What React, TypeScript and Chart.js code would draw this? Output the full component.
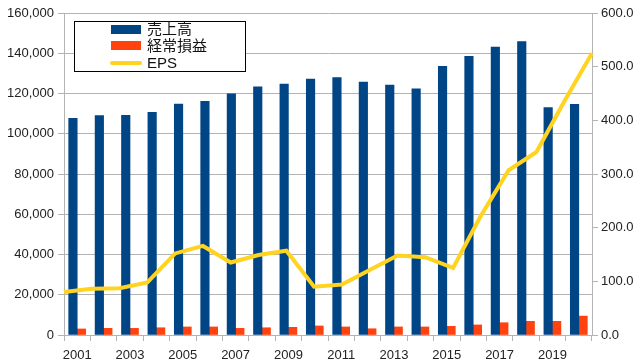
import React, { useEffect, useRef } from "react";
import { Chart, registerables } from "chart.js";

Chart.register(...registerables);

const years = ["2001","2002","2003","2004","2005","2006","2007","2008","2009","2010","2011","2012","2013","2014","2015","2016","2017","2018","2019","2020"];
const sales = [107700,109000,109200,110700,114800,116100,119800,123300,124700,127200,127900,125700,124200,122300,133500,138500,143100,145800,113000,114600];
const ordinaryProfit = [3000,3300,3300,3600,4000,4000,3300,3600,3800,4500,4000,3100,4000,4000,4300,5000,6100,6800,6800,9400];
const eps = [80,86,87,98,152,166,135,149,157,90,94,121,148,145,125,222,307,341,435,525];

const seriesNames = ["売上高", "経常損益", "EPS"];
const colors = ["#004586", "#ff420e", "#ffd320"];

const FONT = "'Liberation Sans', Arial, 'Noto Sans CJK JP', sans-serif";

const legendBox = {
  id: "legendBox",
  afterDatasetsDraw(chart: any) {
    const ctx = chart.ctx as CanvasRenderingContext2D;
    ctx.save();
    const x0 = 74.5, y0 = 21.5, w = 171, h = 50;
    ctx.fillStyle = "#ffffff";
    ctx.fillRect(x0, y0, w, h);
    ctx.strokeStyle = "#000000";
    ctx.lineWidth = 1;
    ctx.strokeRect(x0, y0, w, h);
    ctx.fillStyle = colors[0];
    ctx.fillRect(111, 25, 30, 9);
    ctx.fillStyle = colors[1];
    ctx.fillRect(111, 41, 30, 9);
    ctx.strokeStyle = colors[2];
    ctx.lineWidth = 4;
    ctx.lineCap = "round";
    ctx.beginPath();
    ctx.moveTo(112, 63);
    ctx.lineTo(140, 63);
    ctx.stroke();
    ctx.fillStyle = "#111111";
    ctx.font = "15px " + FONT;
    ctx.textBaseline = "middle";
    ctx.textAlign = "left";
    ctx.fillText(seriesNames[0], 147, 30);
    ctx.fillText(seriesNames[1], 147, 47);
    ctx.fillText(seriesNames[2], 147, 64);
    ctx.restore();
  },
};

export default function App() {
  const ref = useRef<HTMLCanvasElement | null>(null);
  useEffect(() => {
    if (!ref.current) return;
    const gridColor = "#b3b3b3";
    const chart = new Chart(ref.current, {
      type: "bar",
      data: {
        labels: years,
        datasets: [
          {
            type: "line",
            label: seriesNames[2],
            data: eps,
            borderColor: colors[2],
            backgroundColor: colors[2],
            borderWidth: 4,
            pointRadius: 0,
            tension: 0,
            xAxisID: "x2",
            yAxisID: "y1",
            order: 0,
          } as any,
          {
            label: seriesNames[0],
            data: sales,
            backgroundColor: colors[0],
            barThickness: 8.5,
            yAxisID: "y",
            order: 1,
          },
          {
            label: seriesNames[1],
            data: ordinaryProfit,
            backgroundColor: colors[1],
            barThickness: 8.5,
            yAxisID: "y",
            order: 1,
          },
        ],
      },
      options: {
        responsive: false,
        animation: false,
        devicePixelRatio: 1,
        layout: { padding: { top: 13, left: 0, right: 0, bottom: 0 } },
        plugins: { legend: { display: false }, tooltip: { enabled: false } },
        scales: {
          x: {
            type: "category",
            offset: true,
            grid: { display: true, drawOnChartArea: false, drawTicks: true, tickLength: 6, color: gridColor, offset: true },
            border: { display: true, color: gridColor },
            ticks: {
              autoSkip: false,
              maxRotation: 0,
              padding: 7,
              color: "#222",
              font: { family: FONT, size: 13 },
              callback: (_v: any, i: number) => (i % 2 === 0 ? years[i] : ""),
            },
            afterFit: (s: any) => { s.height = 28; },
          },
          x2: {
            type: "category",
            labels: years,
            offset: false,
            display: false,
          },
          y: {
            position: "left",
            min: 0,
            max: 160000,
            grid: { color: gridColor, tickLength: 6 },
            border: { display: true, color: gridColor },
            ticks: {
              stepSize: 20000,
              padding: 4,
              color: "#222",
              font: { family: FONT, size: 13 },
              callback: (v: any) => Number(v).toLocaleString("en-US"),
            },
            afterFit: (s: any) => { s.width = 64; },
          },
          y1: {
            position: "right",
            min: 0,
            max: 600,
            grid: { drawOnChartArea: false, color: gridColor, tickLength: 6 },
            border: { display: true, color: gridColor },
            ticks: {
              stepSize: 100,
              padding: 3,
              color: "#222",
              font: { family: FONT, size: 13 },
              callback: (v: any) => Number(v).toFixed(1),
            },
            afterFit: (s: any) => { s.width = 48; },
          },
        },
      },
      plugins: [legendBox],
    });
    return () => chart.destroy();
  }, []);
  return (
    <div style={{ position: "absolute", left: 0, top: 0, width: 640, height: 363, background: "#fff" }}>
      <canvas ref={ref} width={640} height={363} style={{ width: 640, height: 363, display: "block" }} />
    </div>
  );
}
